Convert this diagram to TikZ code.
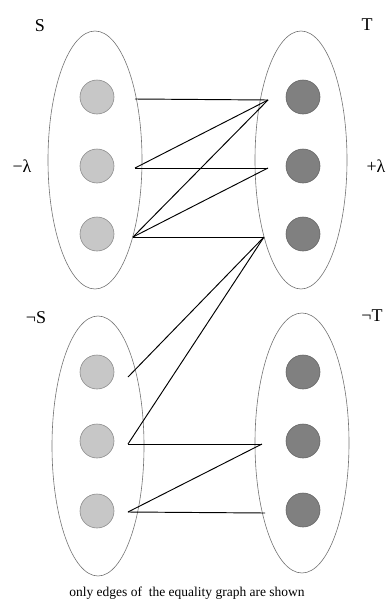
\documentclass[tikz,border=0pt]{standalone}
\usepackage{fontspec}
\setmainfont{Liberation Serif}
\begin{document}
\begin{tikzpicture}[x=1pt,y=-1pt,
  grp/.style={draw=black!55,line width=0.6pt},
  lnode/.style={circle,draw=black!45,fill=black!22,line width=0.6pt,minimum size=34pt,inner sep=0pt},
  dnode/.style={circle,draw=black!60,fill=black!50,line width=0.6pt,minimum size=34pt,inner sep=0pt},
  edge/.style={draw=black,line width=0.95pt},
  lab/.style={font=\fontsize{18}{20}\selectfont,inner sep=0pt}]
\useasboundingbox (0,0) rectangle (387,608);
% group ellipses
\draw[grp] (95,160) ellipse [x radius=47,y radius=129];
\draw[grp] (301,160) ellipse [x radius=46,y radius=129];
\draw[grp] (98,446) ellipse [x radius=46,y radius=130];
\draw[grp] (302,443) ellipse [x radius=47,y radius=130];
% vertices
\node[lnode] (s1) at (97,97) {};
\node[lnode] (s2) at (97,166) {};
\node[lnode] (s3) at (97,234) {};
\node[dnode] (t1) at (303,97) {};
\node[dnode] (t2) at (303,166) {};
\node[dnode] (t3) at (303,234) {};
\node[lnode] (u1) at (97,372) {};
\node[lnode] (u2) at (97,441) {};
\node[lnode] (u3) at (97,511) {};
\node[dnode] (v1) at (303,372) {};
\node[dnode] (v2) at (303,441) {};
\node[dnode] (v3) at (303,510) {};
% labels
\node[lab] (lS) at (40,26) {S};
\node[lab] (lT) at (367,25) {T};
\node[lab] (lml) at (22,166) {−λ};
\node[lab] (lpl) at (376,166) {+λ};
\node[lab] (lnS) at (36,318) {¬S};
\node[lab] (lnT) at (372,316) {¬T};
\node[font=\fontsize{13.5}{15}\selectfont,inner sep=0pt] (cap) at (187,593) {only edges of\ \ the equality graph are shown};
% edge end points
\coordinate (a1) at (135,99);
\coordinate (a2) at (135,168);
\coordinate (a3) at (133,237);
\coordinate (b1) at (268,100);
\coordinate (b2) at (268,168);
\coordinate (b3) at (264,237);
\coordinate (c1) at (128,377);
\coordinate (c2) at (128,444);
\coordinate (c3) at (128,512);
\coordinate (d2) at (262,444);
\coordinate (d3) at (265,513);
% edges
\draw[edge] (a1) -- (b1);
\draw[edge] (a2) -- (b1);
\draw[edge] (a2) -- (b2);
\draw[edge] (a3) -- (b1);
\draw[edge] (a3) -- (b2);
\draw[edge] (a3) -- (b3);
\draw[edge] (b3) -- (c1);
\draw[edge] (b3) -- (c2);
\draw[edge] (c2) -- (d2);
\draw[edge] (c3) -- (d2);
\draw[edge] (c3) -- (d3);
\end{tikzpicture}
\end{document}
